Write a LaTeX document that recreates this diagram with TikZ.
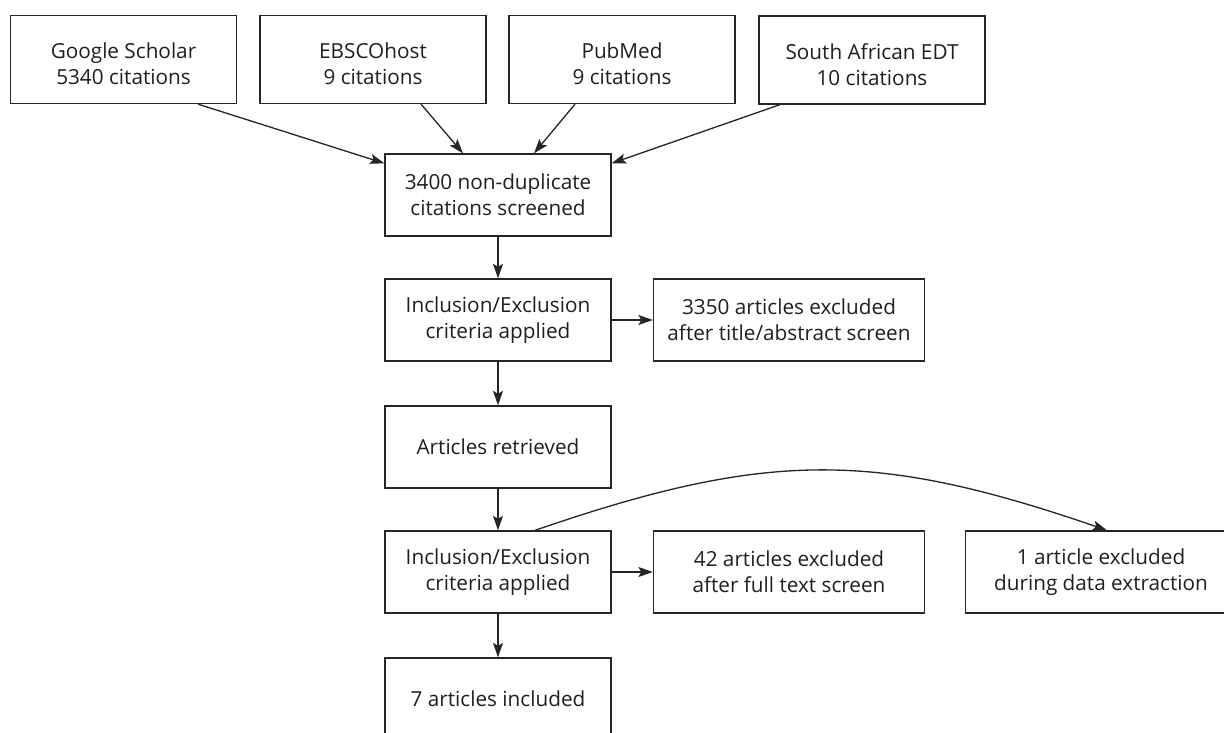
\documentclass[tikz,border=0pt]{standalone}
\usepackage{fontspec}
\setmainfont{Open Sans}
\usetikzlibrary{arrows.meta,calc}
\begin{document}
\begin{tikzpicture}[x=0.02cm,y=-0.02cm,
  box/.style={draw=black!85,line width=0.75pt,minimum width=4.52cm,minimum height=1.64cm,
    align=center,inner sep=0pt,text=black!88,font=\fontsize{11.8}{14.8}\selectfont},
  topbox/.style={box,minimum height=1.76cm},
  widebox/.style={box,minimum width=5.42cm},
  arr/.style={draw=black!85,line width=0.75pt,-{Stealth[length=0.29cm,width=0.2cm,inset=0.06cm]}}]
\useasboundingbox (0,0) rectangle (1224,733);
\clip (0,0) rectangle (1224,733);
% top row
\node[topbox] (gs) at (123.5,59.5) {\rule{0pt}{14pt}Google Scholar\\5340 citations};
\node[topbox] (eb) at (373,59.5) {\rule{0pt}{14pt}EBSCOhost\\9 citations};
\node[topbox] (pm) at (622,59.5) {\rule{0pt}{14pt}PubMed\\9 citations};
\node[topbox] (sa) at (872,60) {\rule{0pt}{14pt}South African EDT\\10 citations};
% main column
\node[box] (nd) at (498,195) {3400 non-duplicate\\citations screened};
\node[box] (inc1) at (498,320) {Inclusion/Exclusion\\criteria applied};
\node[widebox] (ex1) at (789,320) {3350 articles excluded\\after title/abstract screen};
\node[box] (ar) at (498,447) {Articles retrieved};
\node[box] (inc2) at (498,572) {Inclusion/Exclusion\\criteria applied};
\node[widebox] (ex2) at (789,572) {42 articles excluded\\after full text screen};
\node[widebox] (ex3) at (1101,572) {1 article excluded\\during data extraction};
\node[box] (inc) at (498,699) {7 articles included};
% arrows from sources
\draw[arr] ($(gs.south)+(74.5,0)$) -- ($(nd.north west)+(0,10)$);
\draw[arr] ($(eb.south)+(48,0)$) -- ($(nd.north)+(-35,0)$);
\draw[arr] ($(pm.south)+(-47,0)$) -- ($(nd.north)+(36,0)$);
\draw[arr] ($(sa.south)+(-92,0)$) -- ($(nd.north east)+(0,10)$);
% flow
\draw[arr] (nd) -- (inc1);
\draw[arr] (inc1) -- (ex1);
\draw[arr] (inc1) -- (ar);
\draw[arr] (ar) -- (inc2);
\draw[arr] (inc2) -- (ex2);
\draw[arr] (inc2) -- (inc);
\coordinate (cs) at ($(inc2.north)+(37,0)$);
\coordinate (ce) at ($(ex3.north)+(6,0)$);
\draw[arr] (cs) .. controls ($(cs)+(232,-80)$) and ($(ce)+(-232,-80)$) .. (ce);
\end{tikzpicture}
\end{document}
